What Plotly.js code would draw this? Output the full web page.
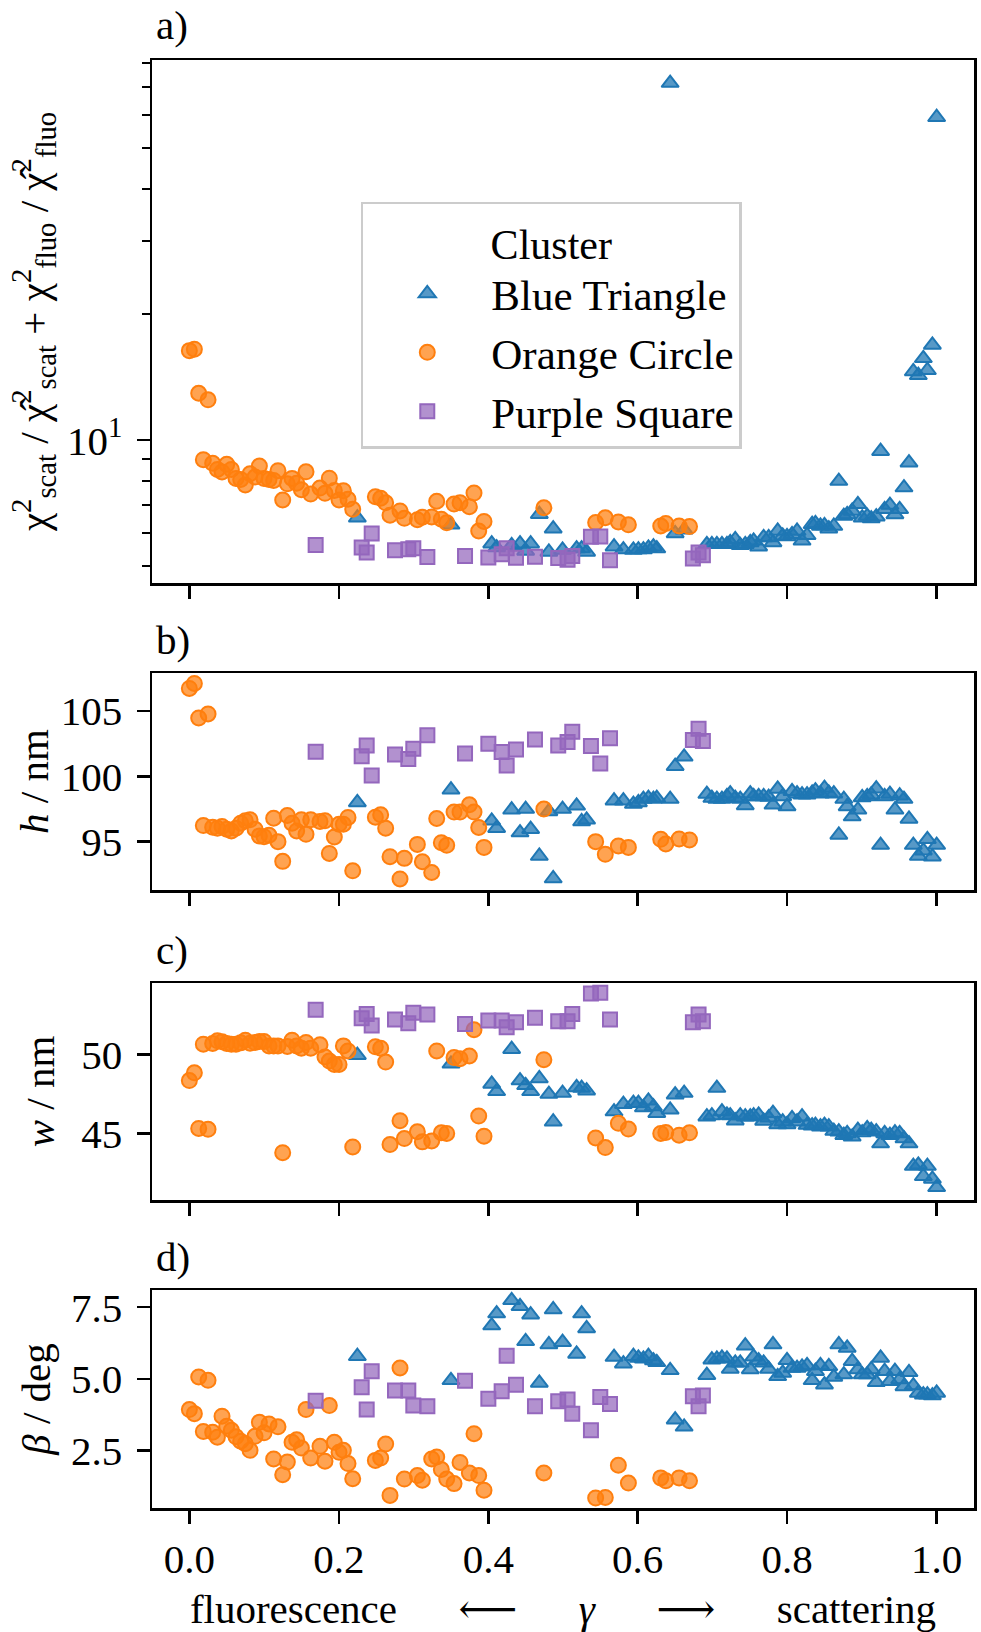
<!DOCTYPE html>
<html>
<head>
<meta charset="utf-8">
<script src="https://cdn.plot.ly/plotly-3.0.1.min.js"></script>
<style>html,body{margin:0;padding:0;background:#fff;}#chart{width:981px;height:1632px;}</style>
</head>
<body>
<div id="chart"></div>
<script>
// ---------- data ----------
const clusterNames = ["Blue Triangle", "Orange Circle", "Purple Square"];

const gammaBlue = [0.2248, 0.3501, 0.4046, 0.4112, 0.4313, 0.4425, 0.4500, 0.4567, 0.4683,
  0.4811, 0.4869, 0.4994, 0.5182, 0.5249, 0.5316,
  0.5683, 0.5808, 0.5942, 0.6009, 0.6076, 0.6143, 0.6210, 0.6255,
  0.6434, 0.6501, 0.6621,
  0.6925, 0.6992, 0.7059, 0.7127, 0.7194, 0.7238, 0.7305, 0.7372, 0.7439, 0.7506,
  0.7551, 0.7618, 0.7685, 0.7752, 0.7810, 0.7873, 0.7940, 0.7998, 0.8065, 0.8132,
  0.8199, 0.8266, 0.8334, 0.8378, 0.8445, 0.8499, 0.8557, 0.8624, 0.8691, 0.8758,
  0.8803, 0.8870, 0.8946, 0.9004, 0.9071, 0.9125, 0.9192, 0.9250, 0.9304, 0.9375,
  0.9442, 0.9505, 0.9563, 0.9630, 0.9688, 0.9755, 0.9822, 0.9876, 0.9943, 1.0000];
const chiBlue = [6.52, 6.27, 5.65, 5.53, 5.60, 5.65, 5.43, 5.65, 6.65,
  5.40, 6.14, 5.46, 5.50, 5.50, 5.40,
  5.56, 5.47, 5.46, 5.47, 5.47, 5.52, 5.56, 5.50,
  71.6, 5.98, 6.10,
  5.63, 5.63, 5.63, 5.63, 5.63, 5.69, 5.79, 5.60, 5.63, 5.69,
  5.74, 5.56, 5.85, 5.85, 5.69, 6.06, 5.90, 5.88, 5.95, 6.06,
  5.74, 5.92, 6.29, 6.32, 6.23, 6.25, 6.14, 6.23, 7.98, 6.58,
  6.64, 6.77, 7.02, 6.52, 6.58, 6.49, 6.56, 9.41, 6.83, 6.99,
  6.64, 6.83, 7.70, 8.83, 14.6, 14.3, 15.7, 14.7, 16.9, 59.3];
const hBlue = [98.0, 98.97, 96.59, 96.03, 97.44, 95.69, 97.49, 95.95, 93.9,
  97.31, 92.18, 97.49, 97.74, 96.54, 96.67,
  98.13, 98.13, 97.87, 98.0, 98.26, 98.33, 98.26, 98.33,
  98.26, 100.77, 101.49,
  98.64, 98.33, 98.26, 98.26, 98.46, 98.67, 98.33, 98.26, 97.77, 98.67,
  98.46, 98.46, 98.46, 98.41, 97.82, 99.03, 98.46, 97.69, 98.85, 98.67,
  98.59, 98.59, 98.72, 98.9, 98.67, 99.1, 98.72, 98.67, 95.51, 98.26,
  97.69, 96.92, 97.44, 98.38, 98.46, 98.59, 99.05, 94.74, 98.46, 98.64,
  97.44, 98.51, 98.26, 96.74, 94.74, 93.9, 94.31, 95.18, 93.85, 94.74];
const wBlue = [49.94, 49.40, 48.13, 47.66, 50.32, 48.34, 48.04, 47.66, 48.47,
  47.49, 45.74, 47.55, 47.91, 47.87, 47.70,
  46.38, 46.85, 46.91, 46.91, 46.64, 47.06, 46.70, 46.28,
  46.49, 47.45, 47.55,
  46.06, 46.13, 47.87, 46.38, 46.17, 46.13, 45.81, 46.13, 46.06, 46.06,
  46.13, 46.17, 45.79, 46.0, 46.28, 45.57, 45.74, 45.57, 45.96, 45.74,
  46.06, 45.53, 45.49, 45.53, 45.43, 45.53, 45.43, 45.15, 45.11, 44.89,
  45.0, 44.79, 45.21, 45.06, 45.32, 45.21, 45.11, 44.36, 45.0, 44.89,
  45.06, 45.0, 44.68, 44.36, 42.94, 43.02, 42.30, 42.94, 42.13, 41.60];
const betaBlue = [5.79, 4.95, 6.86, 7.28, 7.74, 7.53, 6.31, 7.24, 4.86,
  6.20, 7.42, 6.28, 5.87, 7.28, 6.76,
  5.76, 5.53, 5.79, 5.73, 5.70, 5.79, 5.64, 5.58,
  5.30, 3.58, 3.33,
  5.13, 5.67, 5.70, 5.73, 5.70, 5.35, 5.56, 5.56, 6.16, 5.33,
  5.77, 5.64, 5.56, 5.35, 6.20, 5.09, 5.21, 5.65, 5.38, 5.38,
  5.42, 5.47, 4.95, 5.27, 5.47, 4.80, 5.44, 5.07, 6.20, 5.15,
  6.08, 5.62, 5.33, 5.15, 5.15, 5.33, 4.88, 5.73, 5.27, 4.92,
  5.27, 4.98, 4.74, 5.23, 4.77, 4.51, 4.45, 4.45, 4.42, 4.51];

const gammaOrange = [0.000, 0.0067, 0.0125, 0.0187, 0.0250, 0.0312, 0.0375, 0.0437, 0.0500, 0.0562,
  0.0624, 0.0687, 0.0749, 0.0812, 0.0879, 0.0937, 0.0999, 0.1066, 0.1128, 0.1186,
  0.1249, 0.1311, 0.1374, 0.1436, 0.1499, 0.1561, 0.1624, 0.1748, 0.1815, 0.1873,
  0.1940, 0.2003, 0.2061, 0.2123, 0.2186,
  0.2489, 0.2560, 0.2627, 0.2685, 0.2819, 0.2877, 0.3051, 0.3118, 0.3243, 0.3310,
  0.3372, 0.3444, 0.3542, 0.3622, 0.3747, 0.3809, 0.3872, 0.3943,
  0.4744, 0.5437, 0.5566, 0.5741, 0.5875, 0.6308, 0.6376, 0.6554, 0.6693];
const chiOrange = [16.38, 16.51, 12.95, 8.98, 12.49, 8.80, 8.51, 8.39, 8.75, 8.51,
  8.10, 8.05, 7.81, 8.31, 8.16, 8.67, 8.10, 8.05, 8.01, 8.45,
  7.19, 7.86, 8.10, 7.89, 7.61, 8.40, 7.43, 7.68, 7.46, 8.11,
  7.58, 7.19, 7.57, 7.22, 6.83,
  7.32, 7.26, 7.08, 6.61, 6.77, 6.50, 6.45, 6.54, 6.55, 7.14,
  6.47, 6.34, 7.03, 7.08, 6.93, 7.47, 6.06, 6.39,
  6.89, 6.35, 6.52, 6.37, 6.27, 6.23, 6.32, 6.23, 6.21];
const hOrange = [106.72, 107.1, 104.46, 96.23, 104.77, 96.1, 96.03, 96.15, 95.95, 95.82,
  96.03, 96.41, 96.6, 96.67, 95.95, 95.44, 95.38, 95.49, 96.79, 95.0,
  93.49, 97.0, 96.41, 95.82, 96.67, 95.56, 96.67, 96.54, 96.6, 94.1,
  95.36, 96.33, 96.33, 96.85, 92.77,
  96.87, 97.05, 96.03, 93.85, 92.15, 93.72, 94.79, 93.46, 92.64, 96.77,
  94.92, 94.72, 97.26, 97.26, 97.82, 97.26, 96.08, 94.56,
  97.49, 95.0, 94.03, 94.67, 94.56, 95.18, 94.82, 95.21, 95.13];
const wOrange = [48.34, 48.83, 45.32, 50.64, 45.26, 50.68, 50.85, 50.79, 50.68, 50.64,
  50.64, 50.72, 50.89, 50.70, 50.74, 50.81, 50.81, 50.53, 50.53, 50.53,
  43.79, 50.49, 50.89, 50.53, 50.38, 50.74, 50.38, 50.6, 49.83, 49.57,
  49.36, 49.36, 50.53, 50.21, 44.15,
  50.47, 50.38, 49.51, 44.3, 45.81, 44.68, 45.11, 44.47, 44.53, 50.21,
  45.04, 45.0, 49.79, 49.72, 49.89, 51.55, 46.1, 44.83,
  49.66, 44.72, 44.11, 45.64, 45.28, 45.0, 45.06, 44.89, 45.04];
const betaOrange = [3.93, 3.79, 5.07, 3.17, 4.95, 3.14, 2.97, 3.70, 3.35, 3.21,
  2.98, 2.83, 2.74, 2.51, 3.0, 3.49, 3.12, 3.43, 2.21, 3.33,
  1.66, 2.10, 2.79, 2.88, 2.59, 3.93, 2.24, 2.65, 2.13, 4.07,
  2.79, 2.44, 2.51, 2.05, 1.52,
  2.16, 2.24, 2.73, 0.94, 5.38, 1.51, 1.63, 1.47, 2.21, 2.28,
  1.84, 1.51, 1.35, 2.09, 1.72, 3.09, 1.63, 1.12,
  1.72, 0.85, 0.87, 1.99, 1.37, 1.55, 1.45, 1.55, 1.45];

const gammaPurple = [0.1690, 0.2306, 0.2373, 0.2440, 0.2752, 0.2930, 0.2997, 0.3185, 0.3689, 0.4001,
  0.4179, 0.4246, 0.4371, 0.4625, 0.4936, 0.5061, 0.5124, 0.5374, 0.5499, 0.5629,
  0.6738, 0.6814, 0.6872];
const chiPurple = [5.61, 5.53, 5.38, 5.98, 5.45, 5.48, 5.51, 5.25, 5.28, 5.24,
  5.33, 5.51, 5.23, 5.26, 5.22, 5.17, 5.28, 5.87, 5.88, 5.16,
  5.21, 5.38, 5.30];
const hPurple = [101.87, 101.54, 102.36, 100.05, 101.67, 101.33, 102.1, 103.13, 101.74, 102.49,
  101.85, 100.82, 102.05, 102.82, 102.36, 102.62, 103.41, 102.31, 100.97, 102.9,
  102.77, 103.64, 102.69];
const wPurple = [52.81, 52.28, 52.55, 51.81, 52.19, 51.96, 52.62, 52.51, 51.91, 52.13,
  52.13, 51.70, 52.02, 52.30, 52.09, 52.09, 52.55, 53.83, 53.89, 52.19,
  52.02, 52.51, 52.09];
const betaPurple = [4.24, 4.71, 3.93, 5.27, 4.60, 4.60, 4.07, 4.05, 4.94, 4.31,
  4.57, 5.81, 4.80, 4.05, 4.22, 4.28, 3.79, 3.21, 4.37, 4.13,
  4.40, 4.05, 4.42];

const xTickVals = [0, 0.2, 0.4, 0.6, 0.8, 1.0];
const xTickText = ["0.0", "0.2", "0.4", "0.6", "0.8", "1.0"];
const chiTickVals = [10];
const chiTickText = ["10<sup>1</sup>"];
const chiMinorVals = [5, 6, 7, 8, 9, 20, 30, 40, 50, 60, 70, 80];
const hTickVals = [95, 100, 105];
const hTickText = ["95", "100", "105"];
const wTickVals = [45, 50];
const wTickText = ["45", "50"];
const betaTickVals = [2.5, 5.0, 7.5];
const betaTickText = ["2.5", "5.0", "7.5"];

// ---------- styling ----------
const FONT = "Liberation Serif, DejaVu Serif, serif";
const FS = 41;
const styles = [
  {name: clusterNames[0], symbol: "triangle-up", size: 15, fill: "rgba(31,119,180,0.75)", line: "#1f77b4"},
  {name: clusterNames[1], symbol: "circle", size: 15, fill: "rgba(255,127,14,0.72)", line: "#ff7f0e"},
  {name: clusterNames[2], symbol: "square", size: 14, fill: "rgba(148,103,189,0.72)", line: "#9467bd"}
];
const gammas = [gammaBlue, gammaOrange, gammaPurple];
const panels = [
  {vals: [chiBlue, chiOrange, chiPurple], xa: "x", ya: "y"},
  {vals: [hBlue, hOrange, hPurple], xa: "x2", ya: "y2"},
  {vals: [wBlue, wOrange, wPurple], xa: "x3", ya: "y3"},
  {vals: [betaBlue, betaOrange, betaPurple], xa: "x4", ya: "y4"}
];

const traces = [];
panels.forEach((p, pi) => {
  styles.forEach((s, si) => {
    traces.push({
      type: "scatter", mode: "markers",
      x: gammas[si], y: p.vals[si],
      xaxis: p.xa, yaxis: p.ya,
      name: s.name, legendgroup: s.name,
      showlegend: pi === 0,
      marker: {symbol: s.symbol, size: s.size, color: s.fill, line: {color: s.line, width: 2}},
      hoverinfo: "x+y"
    });
  });
});

const L = 152, R = 7, T = 60, B = 124, H = 1632;
const PH = H - T - B;
function dom(top, bottom) { return [1 - (bottom - T) / PH, 1 - (top - T) / PH]; }

const axisBase = {
  showline: true, linecolor: "black", linewidth: 2.5, mirror: true,
  ticks: "outside", ticklen: 13, tickwidth: 2.5, tickcolor: "black",
  showgrid: false, zeroline: false,
  tickfont: {family: FONT, size: FS, color: "black"}
};
function xax(anchor, showLabels, title) {
  const a = Object.assign({}, axisBase, {
    anchor: anchor, domain: [0, 1], range: [-0.05, 1.05],
    tickmode: "array", tickvals: xTickVals,
    showticklabels: showLabels, ticklabelstandoff: 0
  });
  if (showLabels) a.ticktext = xTickText;
  if (title) a.title = {text: title, font: {family: FONT, size: FS}, standoff: 24};
  return a;
}
function yax(anchor, domain, extra, titleText, standoff) {
  return Object.assign({}, axisBase, {
    anchor: anchor, domain: domain, ticklabelstandoff: 6,
    title: {text: titleText, font: {family: FONT, size: FS}, standoff: standoff}
  }, extra);
}

const nb = "\u00a0";
const xTitle = "fluorescence" + nb.repeat(6) + "\u27f5" + nb.repeat(6) + "<i>γ</i>" + nb.repeat(6) + "\u27f6" + nb.repeat(6) + "scattering";

const layout = {
  width: 981, height: 1632,
  margin: {l: L, r: R, t: T, b: B, pad: 0},
  paper_bgcolor: "white", plot_bgcolor: "white",
  font: {family: FONT, size: FS, color: "black"},
  showlegend: true,
  legend: {
    x: 0.254, y: 0.902, xanchor: "left", yanchor: "top",
    bgcolor: "rgba(255,255,255,0.85)", bordercolor: "#cccccc", borderwidth: 2.5,
    font: {family: FONT, size: 43, color: "black"},
    title: {text: "Cluster", side: "top center", font: {family: FONT, size: 42}},
    itemwidth: 118, tracegroupgap: 5, traceorder: "normal"
  },
  xaxis: xax("y", false),
  xaxis2: xax("y2", false),
  xaxis3: xax("y3", false),
  xaxis4: xax("y4", true, xTitle),
  yaxis: yax("x", dom(60, 583), {
    type: "log", range: [Math.log10(4.55), Math.log10(81.3)],
    tickmode: "array", tickvals: chiTickVals, ticktext: chiTickText,
    minor: {tickmode: "array", tickvals: chiMinorVals, ticks: "outside", ticklen: 7.5, tickwidth: 2, tickcolor: "black", showgrid: false}
  }, "χ<sup>2</sup><sub>scat</sub> / χ\u0302<sup>2</sup><sub>scat</sub> + χ<sup>2</sup><sub>fluo</sub> / χ\u0302<sup>2</sup><sub>fluo</sub>", 6),
  yaxis2: yax("x2", dom(673, 890), {
    range: [91.3, 107.9], tickmode: "array", tickvals: hTickVals, ticktext: hTickText
  }, "<i>h</i> / nm", 0),
  yaxis3: yax("x3", dom(983, 1200), {
    range: [40.8, 54.5], tickmode: "array", tickvals: wTickVals, ticktext: wTickText
  }, "<i>w</i> / nm", 14),
  yaxis4: yax("x4", dom(1290, 1508), {
    range: [0.5, 8.1], tickmode: "array", tickvals: betaTickVals, ticktext: betaTickText
  }, "<i>β</i> / deg", 8),
  annotations: [
    {text: "a)", xref: "paper", yref: "paper", x: 0.003, y: 1 + (T - 25) / PH, xanchor: "left", yanchor: "middle", showarrow: false, font: {family: FONT, size: FS}},
    {text: "b)", xref: "paper", yref: "paper", x: 0.003, y: 1 - (640 - T) / PH, xanchor: "left", yanchor: "middle", showarrow: false, font: {family: FONT, size: FS}},
    {text: "c)", xref: "paper", yref: "paper", x: 0.003, y: 1 - (950 - T) / PH, xanchor: "left", yanchor: "middle", showarrow: false, font: {family: FONT, size: FS}},
    {text: "d)", xref: "paper", yref: "paper", x: 0.003, y: 1 - (1257 - T) / PH, xanchor: "left", yanchor: "middle", showarrow: false, font: {family: FONT, size: FS}}
  ]
};

Plotly.newPlot("chart", traces, layout, {staticPlot: true, displayModeBar: false});
</script>
</body>
</html>
